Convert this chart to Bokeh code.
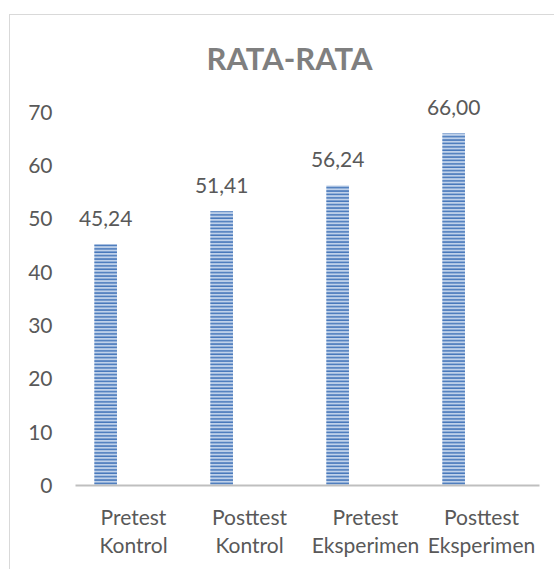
from bokeh.plotting import figure
from bokeh.models import Range1d, FixedTicker, ColumnDataSource
from bokeh.transform import dodge
from bokeh.core.properties import value
from bokeh.embed import file_html
from bokeh.resources import INLINE

categories = ["Pretest\nKontrol", "Posttest\nKontrol", "Pretest\nEksperimen", "Posttest\nEksperimen"]
values = [45.24, 51.41, 56.24, 66.00]
value_labels = ["45,24", "51,41", "56,24", "66,00"]
y_ticks = [0, 10, 20, 30, 40, 50, 60, 70]

src = ColumnDataSource(dict(cat=categories, val=values, lab=value_labels))

FONT = "Lato"
TXT = "#595959"

p = figure(width=545, height=555, x_range=categories, y_range=Range1d(0, 75),
           output_backend="svg", toolbar_location=None,
           min_border_left=65, min_border_right=16, min_border_top=70, min_border_bottom=85,
           title="RATA-RATA")
p.margin = (14, 0, 0, 9)
p.styles = {"border-left": "1px solid #d9d9d9", "border-top": "1px solid #d9d9d9"}

p.title.align = "left"
p.title.text_font = FONT
p.title.text_font_size = "31px"
p.title.text_font_style = "bold"
p.title.text_color = "#7f7f7f"
p.title.offset = 131
p.title.standoff = 18

p.outline_line_color = None
p.xgrid.visible = False
p.ygrid.visible = False

p.vbar(x=dodge("cat", -0.24, range=p.x_range), top="val", width=0.195, source=src,
       fill_color="#bfd1ea", line_color=None,
       hatch_pattern="horizontal_line", hatch_color="#4677ba", hatch_scale=3.4, hatch_weight=1.6)

p.text(x=dodge("cat", -0.24, range=p.x_range), y="val", text="lab", source=src,
       text_align="center", text_baseline="alphabetic", y_offset=-26,
       text_font=value(FONT), text_font_size="21px", text_color=TXT)

ya = p.yaxis[0]
ya.ticker = FixedTicker(ticks=y_ticks)
ya.axis_line_color = None
ya.major_tick_line_color = None
ya.minor_tick_line_color = None
ya.major_label_standoff = 17
ya.major_label_text_font = FONT
ya.major_label_text_font_size = "21px"
ya.major_label_text_color = TXT

xa = p.xaxis[0]
xa.axis_line_color = "#bfbfbf"
xa.axis_line_width = 2
xa.major_tick_line_color = None
xa.minor_tick_line_color = None
xa.major_label_standoff = 12
xa.major_label_text_font = FONT
xa.major_label_text_font_size = "21px"
xa.major_label_text_color = TXT
xa.major_label_text_line_height = 1.15

open("out.html", "w").write(file_html(p, INLINE))
